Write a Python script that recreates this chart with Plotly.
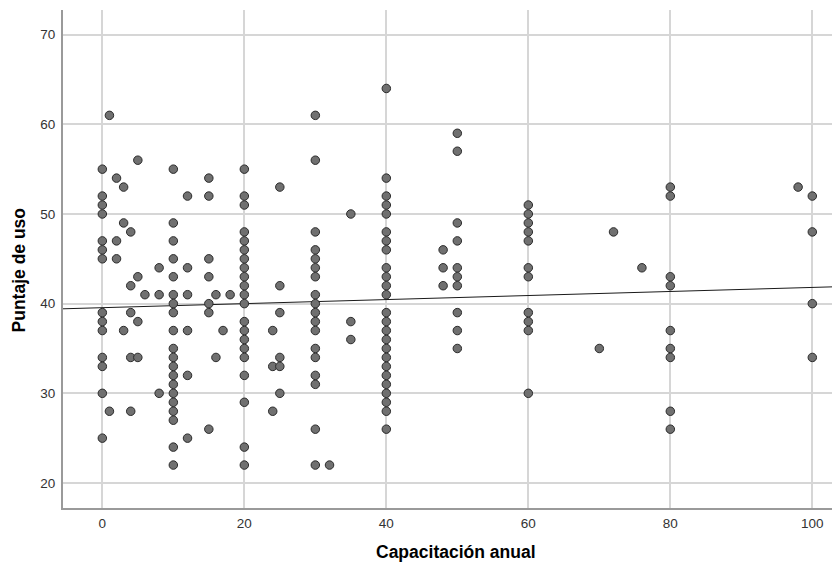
import plotly.graph_objects as go

# Capacitación anual (x levels) and Puntaje de uso values observed at each level
cap_levels = [0, 1, 2, 3, 4, 5, 6, 8, 10, 12, 15, 16, 17, 18, 20, 24, 25, 30, 32, 35,
              40, 48, 50, 60, 70, 72, 76, 80, 98, 100]
puntaje_by_level = [
    [55, 52, 51, 50, 47, 46, 45, 39, 38, 37, 34, 33, 30, 25],          # 0
    [61, 28],                                                          # 1
    [54, 47, 45],                                                      # 2
    [53, 49, 37],                                                      # 3
    [48, 42, 39, 34, 28],                                              # 4
    [56, 43, 38, 34],                                                  # 5
    [41],                                                              # 6
    [44, 41, 30],                                                      # 8
    [55, 49, 47, 45, 43, 41, 40, 39, 37, 35, 34, 33, 32, 31, 30, 29, 28, 27, 24, 22],  # 10
    [52, 44, 41, 37, 32, 25],                                          # 12
    [54, 52, 45, 43, 40, 39, 26],                                      # 15
    [41, 34],                                                          # 16
    [37],                                                              # 17
    [41],                                                              # 18
    [55, 52, 51, 48, 47, 46, 45, 44, 43, 42, 41, 40, 38, 37, 36, 35, 34, 32, 29, 24, 22],  # 20
    [37, 33, 28],                                                      # 24
    [53, 42, 39, 34, 33, 30],                                          # 25
    [61, 56, 48, 46, 45, 44, 43, 41, 40, 39, 38, 37, 35, 34, 32, 31, 26, 22],  # 30
    [22],                                                              # 32
    [50, 38, 36],                                                      # 35
    [64, 54, 52, 51, 50, 48, 47, 46, 44, 43, 42, 41, 39, 38, 37, 36, 35, 34, 33, 32,
     31, 30, 29, 28, 26],                                              # 40
    [46, 44, 42],                                                      # 48
    [59, 57, 49, 47, 44, 43, 42, 39, 37, 35],                          # 50
    [51, 50, 49, 48, 47, 44, 43, 39, 38, 37, 30],                      # 60
    [35],                                                              # 70
    [48],                                                              # 72
    [44],                                                              # 76
    [53, 52, 43, 42, 37, 35, 34, 28, 26],                              # 80
    [53],                                                              # 98
    [52, 48, 40, 34],                                                  # 100
]

# Fit line
fit_intercept = 39.55
fit_slope = 0.0226

x_ticks = [0, 20, 40, 60, 80, 100]
y_ticks = [20, 30, 40, 50, 60, 70]
x_range = [-5.54, 103.9]
y_range = [17.21, 72.75]

xs, ys = [], []
for lvl, vals in zip(cap_levels, puntaje_by_level):
    for v in vals:
        xs.append(lvl)
        ys.append(v)

fit_x = x_range
fit_y = [fit_intercept + fit_slope * v for v in fit_x]

fig = go.Figure()
fig.add_trace(go.Scatter(
    x=fit_x, y=fit_y, mode="lines",
    line=dict(color="#1a1a1a", width=1),
    hoverinfo="skip", showlegend=False,
))
fig.add_trace(go.Scatter(
    x=xs, y=ys, mode="markers",
    marker=dict(size=8.5, color="#707070", line=dict(color="#2b2b2b", width=1)),
    showlegend=False,
))

tick_font = dict(family="Liberation Sans, Arial, sans-serif", size=13.5, color="#333333")
title_font = dict(family="Liberation Sans, Arial, sans-serif", size=17.5, color="#000000")

fig.update_layout(
    width=832, height=559,
    margin=dict(l=55, r=0, t=2, b=59),
    paper_bgcolor="white", plot_bgcolor="white",
    xaxis=dict(
        range=x_range, tickvals=x_ticks, ticktext=[str(t) for t in x_ticks],
        showgrid=True, gridcolor="#d6d6d6", gridwidth=1.5,
        showline=True, linecolor="#9a9a9a", linewidth=2,
        zeroline=False, ticks="", tickfont=tick_font, ticklabelstandoff=2,
    ),
    yaxis=dict(
        range=y_range, tickvals=y_ticks, ticktext=[str(t) for t in y_ticks],
        showgrid=True, gridcolor="#d6d6d6", gridwidth=1.5,
        showline=True, linecolor="#9a9a9a", linewidth=2,
        zeroline=False, ticks="", tickfont=tick_font, ticklabelstandoff=3,
    ),
    annotations=[
        dict(text="<b>Capacitación anual</b>", x=0.5058, y=-0.0884, xref="paper", yref="paper",
             xanchor="center", yanchor="middle", showarrow=False, font=title_font),
        dict(text="<b>Puntaje de uso</b>", x=-0.0573, y=0.478, xref="paper", yref="paper",
             xanchor="center", yanchor="middle", textangle=-90, showarrow=False, font=title_font),
    ],
)

fig.write_html("out.html")
